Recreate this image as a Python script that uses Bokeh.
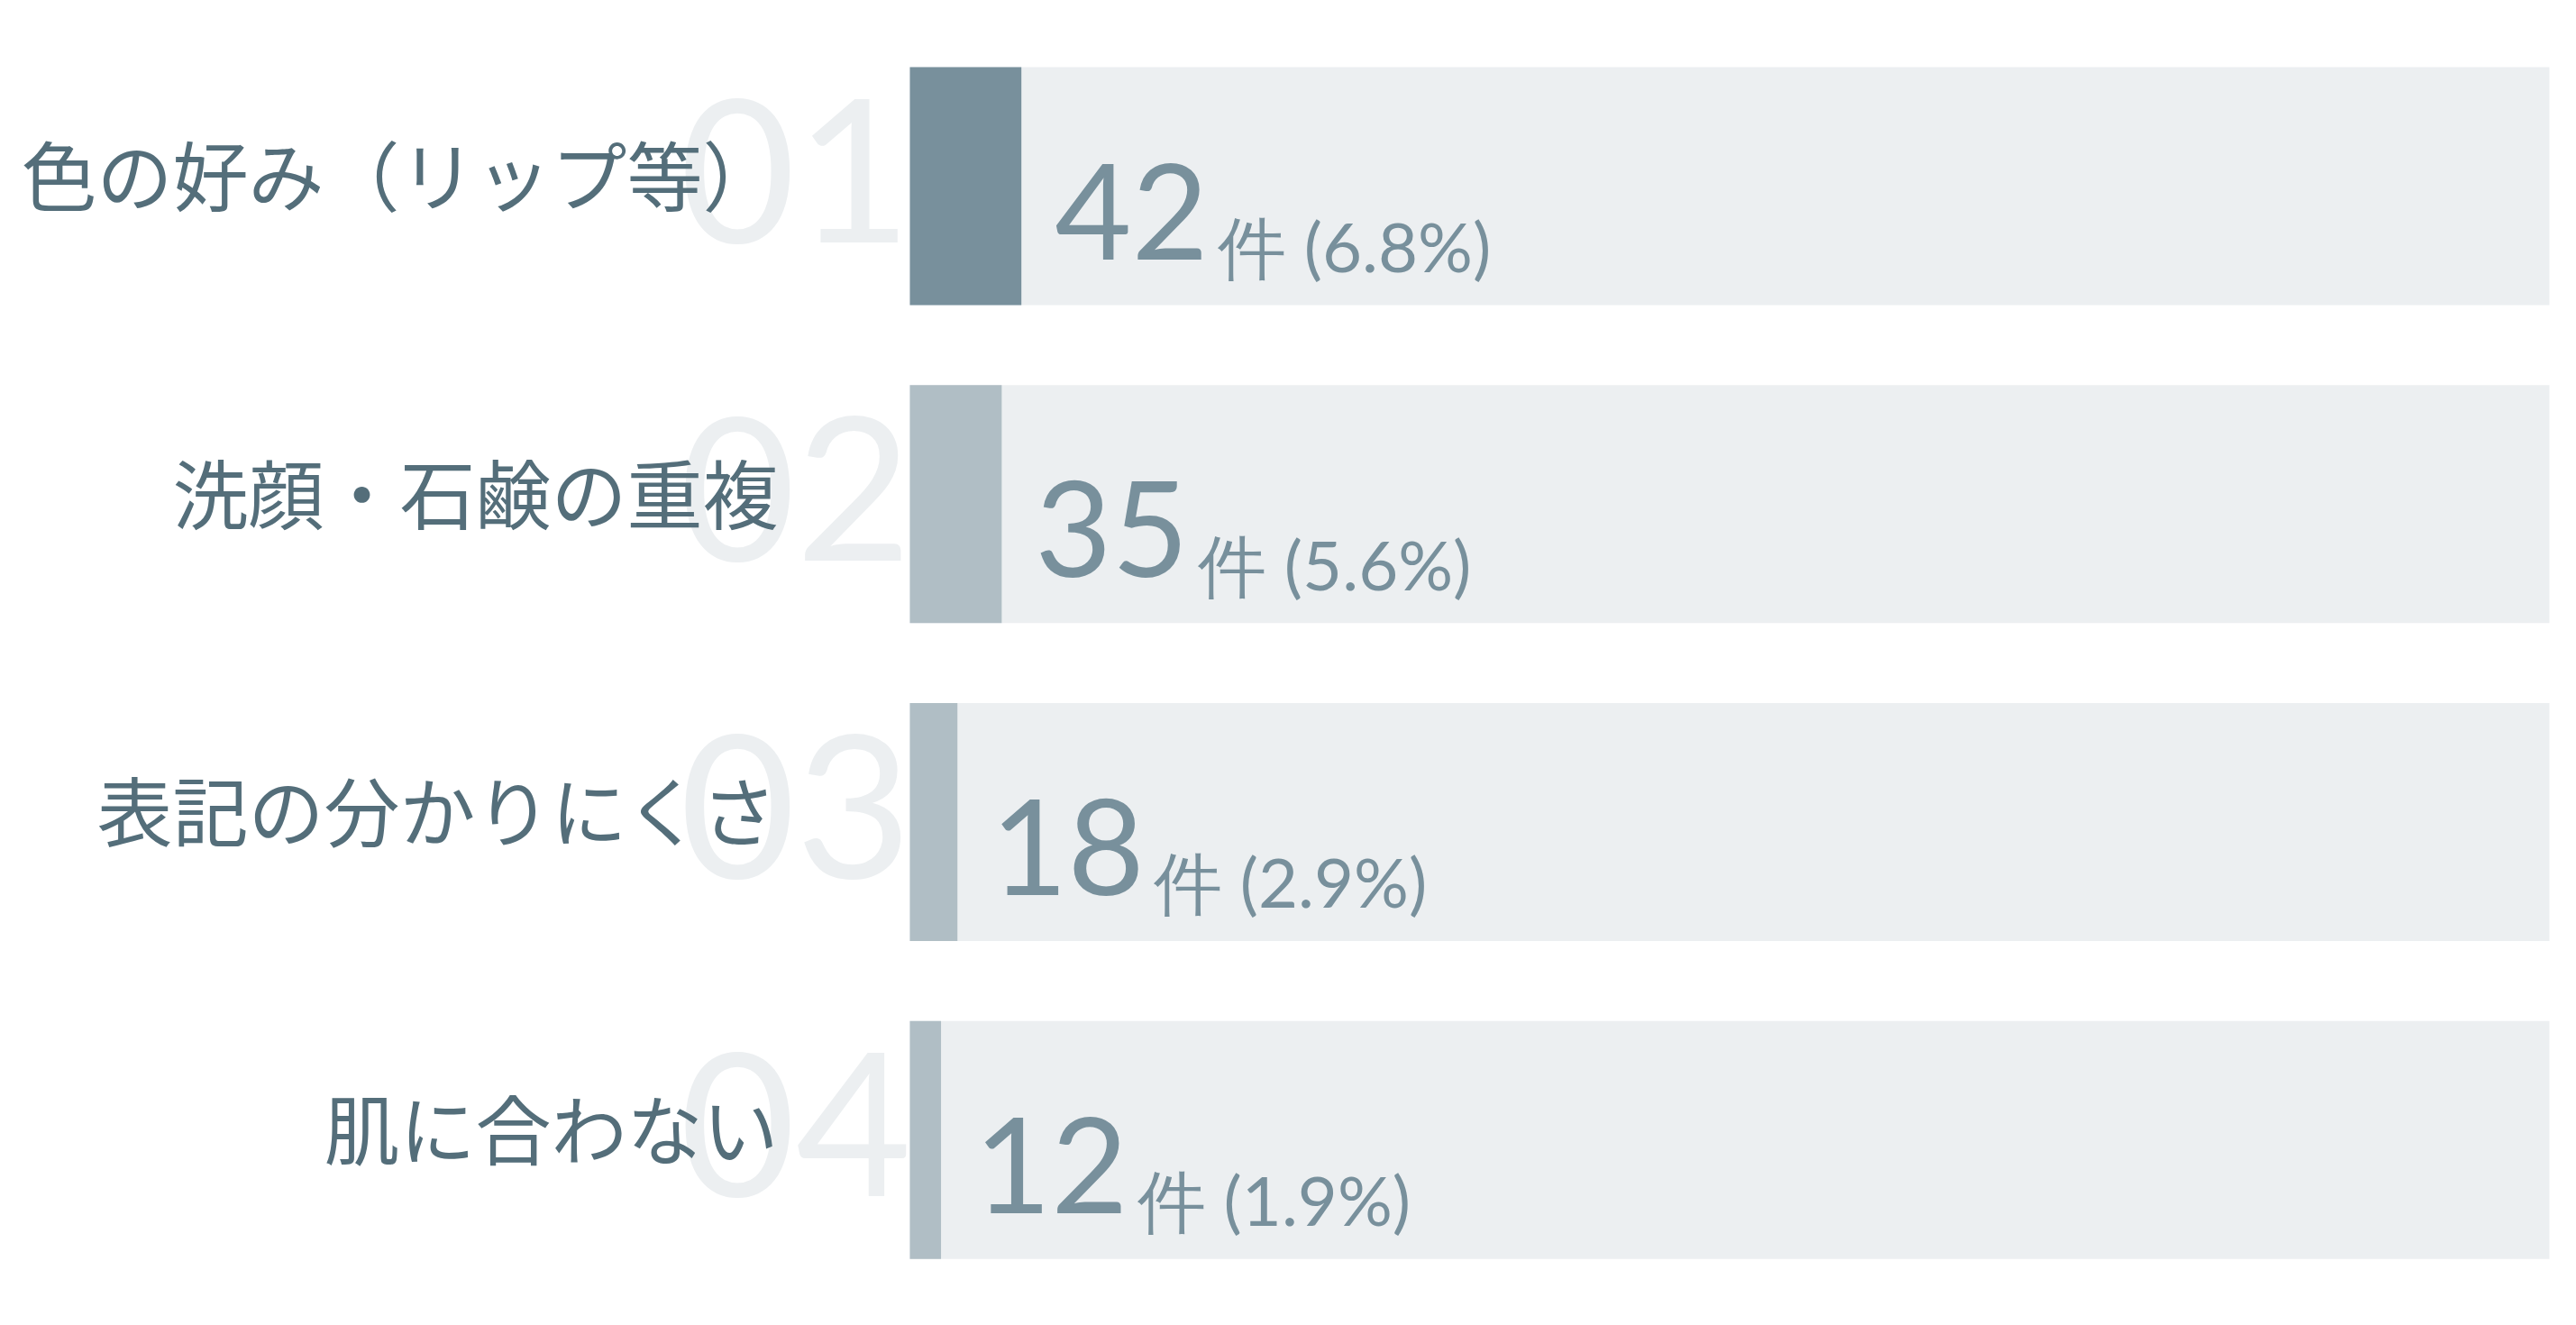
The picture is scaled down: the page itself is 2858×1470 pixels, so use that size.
from bokeh.plotting import figure
from bokeh.models import Range1d, ColumnDataSource
from bokeh.core.properties import value
from bokeh.embed import file_html
from bokeh.resources import INLINE

# ---- data ----
labels = ["色の好み（リップ等）", "洗顔・石鹸の重複", "表記の分かりにくさ", "肌に合わない"]
ranks = ["01", "02", "03", "04"]
counts = [42, 35, 18, 12]
percents = [6.8, 5.6, 2.9, 1.9]
FULL = 100

idx = list(range(len(labels)))
fill_colors = ["#78909C"] + ["#B0BEC5"] * (len(labels) - 1)
count_txt = [str(c) for c in counts]
unit_txt = [f"件 ({p:.1f}%)" for p in percents]

src = ColumnDataSource(dict(y=idx, label=labels, rank=ranks, pct=percents,
                            full=[FULL] * len(idx), color=fill_colors,
                            count=count_txt, unit=unit_txt))

W, H = 2842, 1454
p = figure(width=W, height=H, output_backend="svg", toolbar_location=None,
           x_range=Range1d(-55.47, 100.77), y_range=Range1d(3.538, -0.584),
           min_border=0, background_fill_color="white", border_fill_color="white")
p.outline_line_color = None
p.axis.visible = False
p.grid.visible = False

BH = 0.7485
p.hbar(y="y", left=0, right="full", height=BH, source=src,
       fill_color="#ECEFF1", line_color=None)
p.hbar(y="y", left=0, right="pct", height=BH, source=src,
       fill_color="color", line_color=None)

# big faded rank numbers
p.text(x=0, y="y", text="rank", source=src, x_offset=2, y_offset=-17,
       text_align="right", text_baseline="alphabetic",
       text_font=value("Lato"), text_font_size="222px", text_color="#ECEFF1")

# category labels
p.text(x=0, y="y", text="label", source=src, x_offset=-146, y_offset=-15,
       text_align="right", text_baseline="middle",
       text_font=value("Noto Sans CJK JP"), text_font_size="84px", text_color="#546E7A")

# counts
p.text(x="pct", y="y", text="count", source=src, x_offset=37, y_offset=28,
       text_align="left", text_baseline="alphabetic",
       text_font=value("Lato"), text_font_size="147px", text_color="#78909C")

# unit + percent
p.text(x="pct", y="y", text="unit", source=src, x_offset=218, y_offset=66,
       text_align="left", text_baseline="alphabetic",
       text_font=value("Lato"), text_font_size="76px", text_color="#78909C")

open("out.html", "w").write(file_html(p, INLINE))
